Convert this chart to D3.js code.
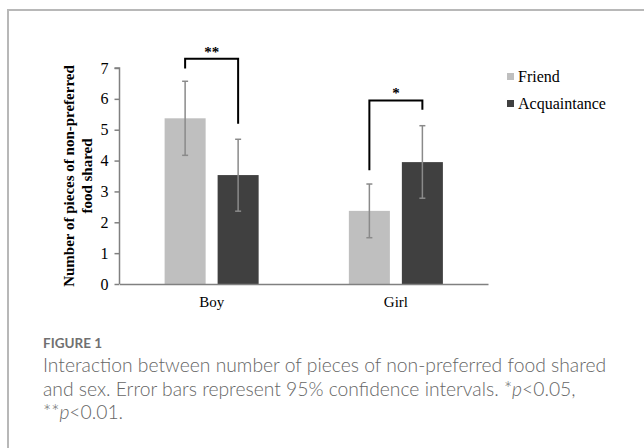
<!DOCTYPE html>
<html>
<head>
<meta charset="utf-8">
<script src="https://cdn.jsdelivr.net/npm/d3@7"></script>
<style>
  body { margin: 0; background: #fff; }
  svg { display: block; }
</style>
</head>
<body>
<div id="chart"></div>
<script>
// data
const groups = ["Boy", "Girl"];
const series = ["Friend", "Acquaintance"];
const friendMean = [5.37, 2.37];
const friendLow = [4.17, 1.5];
const friendHigh = [6.57, 3.24];
const acqMean = [3.53, 3.95];
const acqLow = [2.36, 2.78];
const acqHigh = [4.69, 5.13];
const yTicks = [0, 1, 2, 3, 4, 5, 6, 7];
// significance brackets: top, left leg end, right leg end, label
const bracketTop = [7.3, 5.95];
const bracketLeft = [6.98, 3.69];
const bracketRight = [5.19, 5.65];
const bracketLabel = ["**", "*"];

const colors = { Friend: "#bfbfbf", Acquaintance: "#404040" };

const W = 644, H = 448;
const svg = d3.select("#chart").append("svg").attr("width", W).attr("height", H);

// frame
svg.append("path")
  .attr("d", `M8,${H + 5} L8,10 L${W + 5},10`)
  .attr("fill", "none").attr("stroke", "#b8b8b8").attr("stroke-width", 2);

const x = d3.scaleBand().domain(groups).range([119.5, 488]);
const xSub = d3.scaleBand().domain(series).range([0, x.bandwidth()])
  .paddingInner(0.226).paddingOuter(0.851);
const y = d3.scaleLinear().domain([0, 7]).range([284, 68]);

const rows = groups.map((g, i) => ({
  g,
  vals: [
    { s: "Friend", m: friendMean[i], lo: friendLow[i], hi: friendHigh[i] },
    { s: "Acquaintance", m: acqMean[i], lo: acqLow[i], hi: acqHigh[i] }
  ]
}));

const gg = svg.selectAll("g.grp").data(rows).enter().append("g")
  .attr("class", "grp")
  .attr("transform", d => `translate(${x(d.g)},0)`);

gg.selectAll("rect").data(d => d.vals).enter().append("rect")
  .attr("x", d => xSub(d.s))
  .attr("y", d => y(d.m))
  .attr("width", xSub.bandwidth())
  .attr("height", d => y(0) - y(d.m))
  .attr("fill", d => colors[d.s]);

// error bars
const eb = gg.selectAll("g.err").data(d => d.vals).enter().append("g")
  .attr("class", "err")
  .attr("stroke", "#8a8a8a").attr("stroke-width", 1.5);
eb.append("line")
  .attr("x1", d => xSub(d.s) + xSub.bandwidth() / 2)
  .attr("x2", d => xSub(d.s) + xSub.bandwidth() / 2)
  .attr("y1", d => y(d.lo)).attr("y2", d => y(d.hi));
["lo", "hi"].forEach(k => {
  eb.append("line")
    .attr("x1", d => xSub(d.s) + xSub.bandwidth() / 2 - 3)
    .attr("x2", d => xSub(d.s) + xSub.bandwidth() / 2 + 3)
    .attr("y1", d => y(d[k])).attr("y2", d => y(d[k]));
});

// brackets
groups.forEach((g, i) => {
  const xl = x(g) + xSub("Friend") + xSub.bandwidth() / 2;
  const xr = x(g) + xSub("Acquaintance") + xSub.bandwidth() / 2;
  svg.append("path")
    .attr("d", `M${xl},${y(bracketLeft[i])} L${xl},${y(bracketTop[i])} L${xr},${y(bracketTop[i])} L${xr},${y(bracketRight[i])}`)
    .attr("fill", "none").attr("stroke", "#000").attr("stroke-width", 2);
  svg.append("text")
    .attr("x", (xl + xr) / 2).attr("y", y(bracketTop[i]) - 2)
    .attr("text-anchor", "middle")
    .attr("font-family", "Liberation Serif").attr("font-weight", "bold")
    .attr("font-size", 15)
    .text(bracketLabel[i]);
});

// axes
const yAxis = svg.append("g").attr("transform", "translate(119.5,0)")
  .call(d3.axisLeft(y).tickValues(yTicks).tickSize(5).tickPadding(6).tickFormat(d3.format("d")));
yAxis.select(".domain").attr("d", `M-5,${y(7)}H0V${y(0)}`);
yAxis.selectAll("line, .domain").attr("stroke", "#808080").attr("stroke-width", 1.5);
yAxis.selectAll("text").attr("font-family", "Liberation Serif").attr("font-size", 16).attr("fill", "#000");

const xAxis = svg.append("g").attr("transform", `translate(0,${y(0)})`)
  .call(d3.axisBottom(x).tickSize(0).tickPadding(12));
xAxis.select(".domain").attr("stroke", "#808080").attr("stroke-width", 1.5);
xAxis.selectAll("text").attr("font-family", "Liberation Serif").attr("font-size", 15).attr("fill", "#000");

// y title
const yt = svg.append("text")
  .attr("transform", "translate(74,176) rotate(-90)")
  .attr("text-anchor", "middle")
  .attr("font-family", "Liberation Serif").attr("font-weight", "bold")
  .attr("font-size", 15).attr("fill", "#000");
yt.append("tspan").attr("x", 0).attr("dy", 0).text("Number of pieces of non-preferred");
yt.append("tspan").attr("x", 0).attr("dy", 18).text("food shared");

// legend
const leg = svg.selectAll("g.leg").data(series).enter().append("g")
  .attr("class", "leg")
  .attr("transform", (d, i) => `translate(507,${77 + i * 27})`);
leg.append("rect").attr("x", 0).attr("y", -4).attr("width", 7).attr("height", 7)
  .attr("fill", d => colors[d]);
leg.append("text").attr("x", 11).attr("y", 5)
  .attr("font-family", "Liberation Serif").attr("font-size", 16).attr("fill", "#000")
  .text(d => d);

// caption
svg.append("text").attr("x", 43).attr("y", 348)
  .attr("font-family", "Lato").attr("font-weight", "bold").attr("font-size", 13.5)
  .attr("fill", "#707070").text("FIGURE 1");
const capLines = [
  ["Interaction between number of pieces of non-preferred food shared"],
  ["and sex. Error bars represent 95% confidence intervals. *", "p", "<0.05,"],
  ["**", "p", "<0.01."]
];
capLines.forEach((parts, i) => {
  const t = svg.append("text").attr("x", 43).attr("y", 372 + i * 23.5)
    .attr("font-family", "Lato").attr("font-weight", 300).attr("font-size", 19.3)
    .attr("fill", "#666");
  parts.forEach((p, j) => {
    t.append("tspan").attr("font-style", j === 1 ? "italic" : null).text(p);
  });
});
</script>
</body>
</html>
